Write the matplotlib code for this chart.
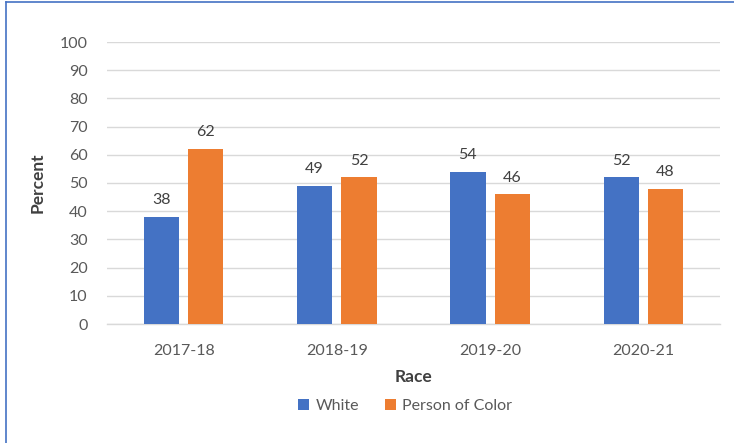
import matplotlib
matplotlib.use("Agg")
import matplotlib.pyplot as plt
from matplotlib.lines import Line2D
import numpy as np

categories = ["2017-18", "2018-19", "2019-20", "2020-21"]
white = [38, 49, 54, 52]
poc = [62, 52, 46, 48]
series_names = ["White", "Person of Color"]
yticks = list(range(0, 101, 10))

plt.rcParams['font.family'] = ['Lato', 'DejaVu Sans']

fig = plt.figure(figsize=(7.34, 4.43), dpi=100)
W, H = 734, 443
ax = fig.add_axes([107 / W, 1 - 324 / H, 613 / W, (324 - 42) / H])

x = np.arange(len(categories))
bw = 0.23
off = 0.145
blue = "#4472C4"
orange = "#ED7D31"
b1 = ax.bar(x - off, white, bw, color=blue, label=series_names[0], zorder=3)
b2 = ax.bar(x + off, poc, bw, color=orange, label=series_names[1], zorder=3)

for bars, vals in ((b1, white), (b2, poc)):
    for r, v in zip(bars, vals):
        ax.annotate(str(v), (r.get_x() + r.get_width() / 2, v), xytext=(0, 7),
                    textcoords="offset points", ha="center", va="bottom",
                    fontsize=11.5, color="#404040")

ax.set_xlim(-0.5, len(categories) - 0.5)
ax.set_ylim(0, 100)
ax.set_yticks(yticks)
ax.set_xticks(x)
ax.set_xticklabels(categories)
ax.tick_params(axis="both", length=0, labelsize=11.5, labelcolor="#595959")
ax.tick_params(axis="y", pad=14)
ax.tick_params(axis="x", pad=14.5)
ax.grid(axis="y", color="#D9D9D9", linewidth=1, zorder=0)
for s in ["top", "right", "left"]:
    ax.spines[s].set_visible(False)
ax.spines["bottom"].set_color("#D9D9D9")
ax.spines["bottom"].set_linewidth(1)

ax.set_ylabel("Percent", fontsize=12.5, fontweight="bold", color="#404040", labelpad=10)
ax.set_xlabel("Race", fontsize=12.5, fontweight="bold", color="#404040", labelpad=7.5)

leg = fig.legend(handles=[b1, b2], labels=series_names, loc="center",
                 bbox_to_anchor=(405 / W, 1 - 406 / H), ncol=2, frameon=False,
                 fontsize=11.5, handlelength=0.7, handleheight=0.7,
                 handletextpad=0.4, columnspacing=1.6)
for t in leg.get_texts():
    t.set_color("#595959")

# figure border (left and top visible)
fig.add_artist(Line2D([5.5 / W, 5.5 / W], [0, 1 - 1.5 / H], color="#4472C4", linewidth=1.2, transform=fig.transFigure))
fig.add_artist(Line2D([5.5 / W, 1], [1 - 1.5 / H, 1 - 1.5 / H], color="#4472C4", linewidth=1.2, transform=fig.transFigure))

fig.savefig("out.png", dpi=100)
